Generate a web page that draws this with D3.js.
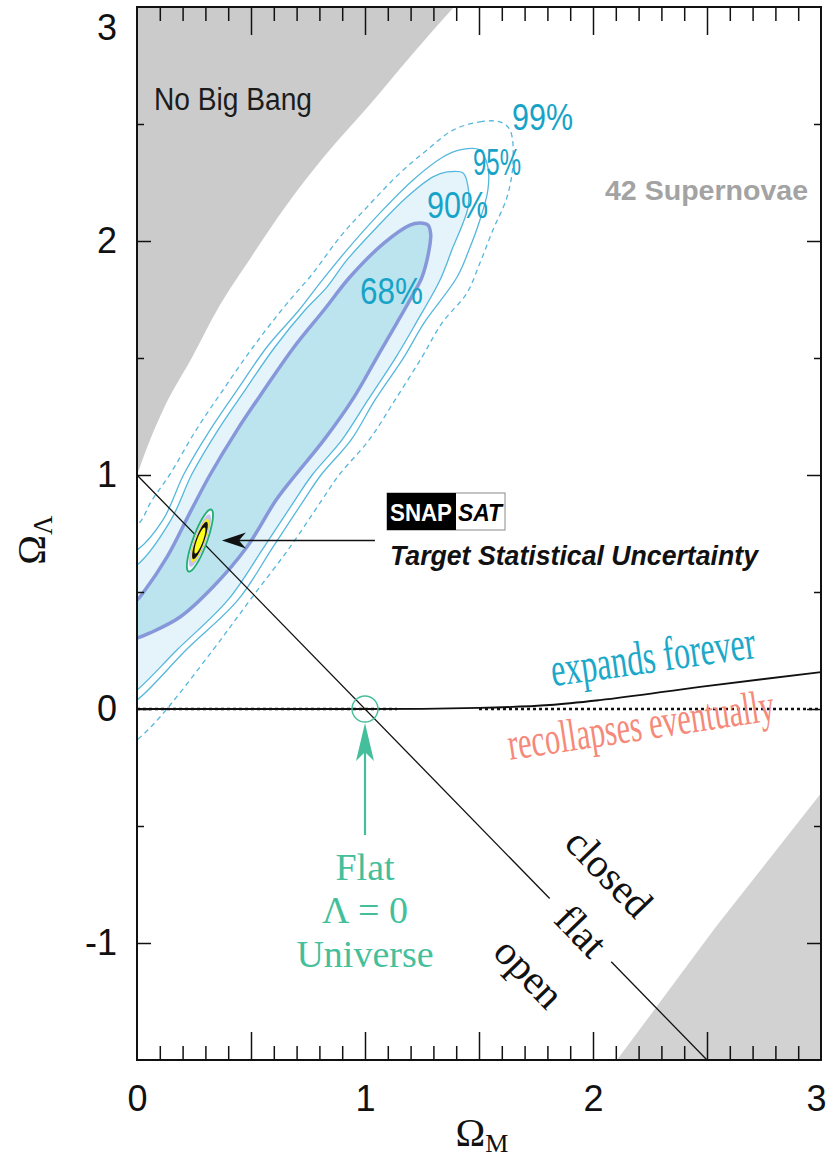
<!DOCTYPE html>
<html>
<head>
<meta charset="utf-8">
<script src="https://cdn.jsdelivr.net/npm/d3@7"></script>
<style>
  body { margin: 0; background: #fff; }
  svg { display: block; }
</style>
</head>
<body>
<svg id="chart" width="827" height="1160"></svg>
<script>
// ---- data (Omega_M, Omega_Lambda) ----
const omegaMLabels = [0, 1, 2, 3];
const omegaLLabels = [-1, 0, 1, 2, 3];

// edge of the "No Big Bang" region
const noBigBangEdge = [[0, 1.0], [0.057, 1.15], [0.12, 1.29], [0.24, 1.50], [0.36, 1.72], [0.5, 1.93],
  [0.65, 2.145], [0.82, 2.36], [1.01, 2.57], [1.2, 2.79], [1.39, 3.0]];
// edge of the excluded lower-right region
const youngUniverseEdge = [[2.105, -1.5], [2.54, -0.93], [3.0, -0.36]];
// expands forever / recollapses eventually boundary
const recollapseEdge = [[0, 0], [1.0, 0], [1.5, 0.005], [1.81, 0.017], [2.03, 0.038], [2.47, 0.095], [3.0, 0.158]];
const recollapseDotted = [[[0, 0], [1.14, 0]], [[1.5, 0], [3.0, 0]]];
// flat universe line Omega_M + Omega_Lambda = 1 (broken where "flat" is written)
const flatSegments = [[[0, 1], [1.81, -0.81]], [[2.08, -1.08], [2.5, -1.5]]];

// confidence contours of the 42 supernovae fit
const contour99 = [[1.386, 2.474], [1.504, 2.509], [1.592, 2.509], [1.636, 2.474], [1.649, 2.333], [1.623, 2.188],
  [1.561, 2.047], [1.504, 1.906], [1.447, 1.778], [1.338, 1.650], [1.250, 1.504], [1.132, 1.321], [1.018, 1.150],
  [0.886, 1.000], [0.811, 0.893], [0.671, 0.692], [0.496, 0.466], [0.333, 0.252], [0.101, -0.034], [0.0, -0.132],
  [-0.096, -0.197], [-0.228, 0.209], [-0.096, 0.765], [0.0, 0.786], [0.066, 0.893], [0.145, 1.004], [0.259, 1.192],
  [0.377, 1.363], [0.509, 1.547], [0.645, 1.718], [0.772, 1.863], [0.890, 2.017], [1.009, 2.145], [1.154, 2.291],
  [1.272, 2.389]];
const contour95 = [[1.342, 2.359], [1.417, 2.389], [1.504, 2.389], [1.539, 2.316], [1.539, 2.218], [1.504, 2.090],
  [1.461, 1.974], [1.404, 1.846], [1.259, 1.650], [1.171, 1.504], [1.044, 1.321], [0.939, 1.150], [0.807, 1.000],
  [0.732, 0.893], [0.596, 0.692], [0.443, 0.466], [0.215, 0.252], [0.0, 0.038], [-0.110, -0.026], [-0.206, 0.209],
  [-0.110, 0.637], [0.0, 0.679], [0.114, 0.808], [0.206, 1.004], [0.320, 1.192], [0.439, 1.363], [0.570, 1.547],
  [0.711, 1.705], [0.803, 1.821], [0.921, 1.962], [1.066, 2.120], [1.211, 2.261]];
const contour90 = [[1.298, 2.274], [1.360, 2.295], [1.430, 2.291], [1.452, 2.231], [1.452, 2.145], [1.430, 2.077],
  [1.386, 1.974], [1.329, 1.833], [1.224, 1.650], [1.136, 1.504], [1.013, 1.321], [0.899, 1.150], [0.768, 1.000],
  [0.693, 0.893], [0.557, 0.692], [0.399, 0.466], [0.175, 0.252], [0.0, 0.081], [-0.096, 0.017], [-0.184, 0.209],
  [-0.096, 0.573], [0.0, 0.615], [0.149, 0.808], [0.241, 1.004], [0.355, 1.192], [0.474, 1.363], [0.605, 1.547],
  [0.737, 1.705], [0.833, 1.803], [0.921, 1.919], [1.053, 2.060], [1.184, 2.188]];
const contour68 = [[1.241, 2.077], [1.276, 2.068], [1.288, 2.030], [1.281, 1.962], [1.250, 1.846], [1.197, 1.748],
  [1.140, 1.650], [1.053, 1.504], [0.952, 1.333], [0.820, 1.150], [0.695, 1.000], [0.610, 0.893], [0.482, 0.692],
  [0.333, 0.521], [0.189, 0.393], [0.057, 0.325], [0.0, 0.303], [-0.053, 0.291], [-0.118, 0.359], [-0.031, 0.453],
  [0.0, 0.466], [0.026, 0.496], [0.132, 0.650], [0.238, 0.850], [0.320, 1.000], [0.439, 1.192], [0.557, 1.363],
  [0.689, 1.547], [0.820, 1.705], [0.934, 1.846], [1.083, 1.991], [1.197, 2.068]];

// SNAP target: centre and principal half-axes (data units)
const snapCenter = [0.276, 0.72];
const snapMajor = [0.0496, 0.1325];
const snapMinor = [0.0289, -0.0102];
const flatLambdaZero = [1.0, 0.0];

// ---- layout ----
const svg = d3.select("#chart");
const x = d3.scaleLinear().domain([0, 3]).range([137, 821]);
const y = d3.scaleLinear().domain([-1.5, 3]).range([1060, 7]);
const sans = "'Liberation Sans', Arial, Helvetica, sans-serif";
const serif = "'Liberation Serif', 'Times New Roman', Times, serif";

svg.append("rect").attr("width", 827).attr("height", 1160).attr("fill", "#fff");
svg.append("clipPath").attr("id", "plot-clip")
  .append("rect").attr("x", x(0)).attr("y", y(3)).attr("width", x(3) - x(0)).attr("height", y(-1.5) - y(3));
const plot = svg.append("g").attr("clip-path", "url(#plot-clip)");

// excluded regions
plot.append("path")
  .datum(noBigBangEdge)
  .attr("d", d3.area().x(d => x(d[0])).y0(y(3)).y1(d => y(d[1])).curve(d3.curveMonotoneX))
  .attr("fill", "#cbcbcb");
plot.append("path")
  .datum(youngUniverseEdge)
  .attr("d", d3.area().x(d => x(d[0])).y0(y(-1.5)).y1(d => y(d[1])))
  .attr("fill", "#d2d2d2");

// confidence contours
const closedLine = d3.line().x(d => x(d[0])).y(d => y(d[1])).curve(d3.curveCatmullRomClosed.alpha(0.5));
const cyanLine = "#55b7dd";
plot.append("path").attr("d", closedLine(contour99)).attr("fill", "none")
  .attr("stroke", cyanLine).attr("stroke-width", 1.3).attr("stroke-dasharray", "5 4");
plot.append("path").attr("d", closedLine(contour95)).attr("fill", "none")
  .attr("stroke", cyanLine).attr("stroke-width", 1.3);
plot.append("path").attr("d", closedLine(contour90)).attr("fill", "#e5f4fb")
  .attr("stroke", cyanLine).attr("stroke-width", 1.3);
plot.append("path").attr("d", closedLine(contour68)).attr("fill", "#bce4ee")
  .attr("stroke", "#8798da").attr("stroke-width", 3.5);

// flat universe line
const line = d3.line().x(d => x(d[0])).y(d => y(d[1]));
flatSegments.forEach(seg => {
  plot.append("path").attr("d", line(seg)).attr("fill", "none")
    .attr("stroke", "#111").attr("stroke-width", 1.3);
});

// expands forever / recollapses boundary
plot.append("path").attr("d", line.curve(d3.curveMonotoneX)(recollapseEdge)).attr("fill", "none")
  .attr("stroke", "#111").attr("stroke-width", 1.8);
line.curve(d3.curveLinear);
recollapseDotted.forEach(seg => {
  plot.append("path").attr("d", line(seg)).attr("fill", "none")
    .attr("stroke", "#111").attr("stroke-width", 2.4).attr("stroke-dasharray", "3 3");
});

// flat, Lambda = 0 universe marker
const teal = "#45bf9b";
plot.append("circle").attr("cx", x(flatLambdaZero[0])).attr("cy", y(flatLambdaZero[1]))
  .attr("r", 13).attr("fill", "none").attr("stroke", teal).attr("stroke-width", 1.4);
{
  const tx = x(flatLambdaZero[0]), ty = y(flatLambdaZero[1]) + 14;
  plot.append("line").attr("x1", tx).attr("x2", tx).attr("y1", ty + 25).attr("y2", ty + 112)
    .attr("stroke", teal).attr("stroke-width", 2.2);
  plot.append("path")
    .attr("d", `M${tx},${ty} L${tx + 9},${ty + 38} L${tx},${ty + 29} L${tx - 9},${ty + 38} Z`)
    .attr("fill", teal);
}

// SNAP target uncertainty ellipse
function ellipsePoints(s, n = 72) {
  return d3.range(n).map(i => {
    const t = 2 * Math.PI * i / n;
    return [snapCenter[0] + s * (snapMajor[0] * Math.cos(t) + snapMinor[0] * Math.sin(t)),
            snapCenter[1] + s * (snapMajor[1] * Math.cos(t) + snapMinor[1] * Math.sin(t))];
  });
}
const ellipseLine = d3.line().x(d => x(d[0])).y(d => y(d[1])).curve(d3.curveLinearClosed);
[[1.0, "#f1f4ff", "#1faf6e", 1.8], [0.84, "#c7c2ee", "none", 0], [0.7, "#f3ec25", "none", 0],
 [0.6, "#111", "none", 0], [0.42, "#ffff1c", "none", 0]].forEach(([s, fill, stroke, sw]) => {
  plot.append("path").attr("d", ellipseLine(ellipsePoints(s)))
    .attr("fill", fill).attr("stroke", stroke).attr("stroke-width", sw);
});

// ---- text annotations ----
function label(g, txt, px, py, opts) {
  const t = g.append("text").attr("x", px).attr("y", py).text(txt)
    .attr("font-family", opts.family || sans)
    .attr("font-size", opts.size)
    .attr("fill", opts.fill || "#111");
  if (opts.weight) t.attr("font-weight", opts.weight);
  if (opts.style) t.attr("font-style", opts.style);
  if (opts.anchor) t.attr("text-anchor", opts.anchor);
  if (opts.len) t.attr("textLength", opts.len).attr("lengthAdjust", "spacingAndGlyphs");
  if (opts.rotate !== undefined) t.attr("transform", `rotate(${opts.rotate},${px},${py})`);
  if (opts.dy) t.attr("dy", opts.dy);
  return t;
}
// narrow, tilted serif lettering placed with a transform
function narrowLabel(g, txt, px, py, opts) {
  return g.append("text")
    .attr("transform", `translate(${px},${py}) rotate(${opts.rotate}) scale(${opts.sx},1)`)
    .attr("text-anchor", "middle")
    .attr("font-family", serif).attr("font-size", opts.size).attr("fill", opts.fill)
    .text(txt);
}
const ann = svg.append("g");
label(ann, "No Big Bang", 154, 110, { size: 31, fill: "#1c1c1c", len: 158 });
label(ann, "42 Supernovae", 605, 200, { size: 28, fill: "#a3a3a3", weight: "bold", len: 203 });

const pctColor = "#17a3c7";
label(ann, "99%", 512, 130, { size: 37, fill: pctColor, len: 61 });
label(ann, "95%", 473, 175, { size: 36, fill: pctColor, len: 48 });
label(ann, "90%", 427, 218, { size: 36, fill: pctColor, len: 61 });
label(ann, "68%", 360, 304, { size: 36, fill: pctColor, len: 63 });

// SNAP/SAT badge and pointer
ann.append("rect").attr("x", 387).attr("y", 493).attr("width", 118).attr("height", 37)
  .attr("fill", "#fff").attr("stroke", "#8a8a8a").attr("stroke-width", 1);
ann.append("rect").attr("x", 387).attr("y", 493).attr("width", 69).attr("height", 37).attr("fill", "#000");
label(ann, "SNAP", 390, 521, { size: 23, fill: "#fff", weight: "bold", len: 62 });
label(ann, "SAT", 458, 521, { size: 23, fill: "#000", weight: "bold", style: "italic", len: 44 });
label(ann, "Target Statistical Uncertainty", 390, 565, { size: 28, weight: "bold", style: "italic", len: 368 });
{
  const tipX = x(snapCenter[0]) + 22, tipY = y(snapCenter[1]);
  ann.append("line").attr("x1", tipX + 10).attr("x2", tipX + 153).attr("y1", tipY).attr("y2", tipY)
    .attr("stroke", "#111").attr("stroke-width", 1.6);
  ann.append("path")
    .attr("d", `M${tipX},${tipY} L${tipX + 24},${tipY - 8} L${tipX + 17},${tipY} L${tipX + 24},${tipY + 8} Z`)
    .attr("fill", "#111");
}

narrowLabel(ann, "expands forever", 655, 672, { size: 48, sx: 0.67, rotate: -8, fill: "#1ba8c9" });
narrowLabel(ann, "recollapses eventually", 643, 740, { size: 46, sx: 0.66, rotate: -8.5, fill: "#f5897a" });

label(ann, "Flat", 365, 880, { size: 38, family: serif, fill: teal, anchor: "middle" });
label(ann, "\u039B = 0", 365, 923, { size: 38, family: serif, fill: teal, anchor: "middle" });
label(ann, "Universe", 365, 967, { size: 38, family: serif, fill: teal, anchor: "middle" });

label(ann, "closed", 608, 874, { size: 41, family: serif, anchor: "middle", rotate: 46, dy: "0.3em" });
label(ann, "flat", 580, 932, { size: 41, family: serif, anchor: "middle", rotate: 46, dy: "0.3em" });
label(ann, "open", 528, 974, { size: 41, family: serif, anchor: "middle", rotate: 46, dy: "0.3em" });

// ---- frame and axes ----
const xMinor = d3.range(0, 31).map(i => i / 10).filter(v => Math.round(v * 10) % 5 !== 0);
const xMajor = [0.5, 1, 1.5, 2, 2.5];
const yInteger = [-1, 0, 1, 2];
const yHalf = [-0.5, 0.5, 1.5, 2.5];

function tickAxis(axisFn, pos, values, size, transform) {
  const g = svg.append("g").attr("transform", transform)
    .call(axisFn(pos).tickValues(values).tickSize(size).tickSizeOuter(0).tickFormat(""));
  g.select(".domain").remove();
  g.selectAll(".tick line").attr("stroke", "#111").attr("stroke-width", 1.5);
  return g;
}
tickAxis(d3.axisBottom, x, xMinor, -14, `translate(0,${y(-1.5)})`);
tickAxis(d3.axisBottom, x, xMajor, -28, `translate(0,${y(-1.5)})`);
tickAxis(d3.axisTop, x, xMinor, -14, `translate(0,${y(3)})`);
tickAxis(d3.axisTop, x, xMajor, -28, `translate(0,${y(3)})`);
tickAxis(d3.axisLeft, y, yInteger, -14, `translate(${x(0)},0)`);
tickAxis(d3.axisLeft, y, yHalf, -7, `translate(${x(0)},0)`);
tickAxis(d3.axisRight, y, yInteger, -14, `translate(${x(3)},0)`);
tickAxis(d3.axisRight, y, yHalf, -7, `translate(${x(3)},0)`);

svg.append("rect").attr("x", x(0)).attr("y", y(3)).attr("width", x(3) - x(0)).attr("height", y(-1.5) - y(3))
  .attr("fill", "none").attr("stroke", "#111").attr("stroke-width", 2);

// tick labels
const xLab = svg.append("g").attr("transform", `translate(0,${y(-1.5)})`)
  .call(d3.axisBottom(x).tickValues(omegaMLabels).tickSize(0).tickPadding(25).tickFormat(d => String(d)));
xLab.select(".domain").remove();
xLab.selectAll("text").attr("font-family", sans).attr("font-size", 36).attr("fill", "#111");
// keep the last label inside the page edge
xLab.selectAll(".tick").filter(d => d === 3).select("text").attr("text-anchor", "end").attr("x", 5);

const yLab = svg.append("g").attr("transform", `translate(${x(0)},0)`)
  .call(d3.axisLeft(y).tickValues(omegaLLabels).tickSize(0).tickPadding(20).tickFormat(d => String(d)));
yLab.select(".domain").remove();
yLab.selectAll("text").attr("font-family", sans).attr("font-size", 36).attr("fill", "#111");
yLab.selectAll(".tick").filter(d => d === 3).select("text").attr("y", 21);

// axis titles
const xt = svg.append("text").attr("x", 482).attr("y", 1146).attr("text-anchor", "middle")
  .attr("font-family", serif).attr("fill", "#111");
xt.append("tspan").attr("font-size", 40).text("\u03A9");
xt.append("tspan").attr("font-size", 26).attr("dy", 6).text("M");

const yt = svg.append("text").attr("text-anchor", "middle")
  .attr("transform", "translate(45,540) rotate(-90)")
  .attr("font-family", serif).attr("fill", "#111");
yt.append("tspan").attr("font-size", 40).text("\u03A9");
yt.append("tspan").attr("font-size", 27).attr("dy", 7).text("\u039B");
</script>
</body>
</html>
